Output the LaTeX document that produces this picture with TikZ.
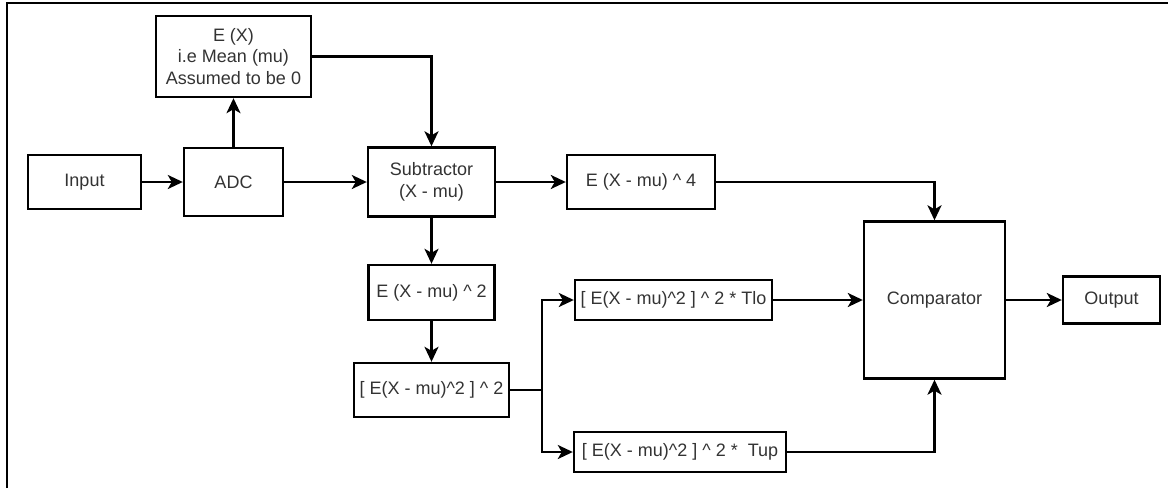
\documentclass[tikz,border=0pt]{standalone}
\usepackage{fontspec}
\setmainfont{Liberation Sans}
\usetikzlibrary{arrows.meta}
\begin{document}
\begin{tikzpicture}[x=1pt,y=-1pt,line width=2.4pt,
  blk/.style={draw,inner sep=0pt,align=center,text=black!80,font=\fontsize{18}{21.5}\selectfont},
  arr/.style={-{Stealth[length=15pt,width=14pt,inset=4pt]}}]
\useasboundingbox (0,0) rectangle (1168,488);
\draw[line width=2pt] (7,488) -- (7,3) -- (1168,3);
\node[blk,minimum width=155,minimum height=81] (ex) at (233.5,56.5) {E (X)\\i.e Mean (mu)\\Assumed to be 0};
\node[blk,minimum width=113,minimum height=54] (in) at (84.5,182) {Input};
\node[blk,minimum width=99,minimum height=68] (adc) at (233.5,182) {ADC};
\node[blk,minimum width=127,minimum height=69] (sub) at (431.5,182) {Subtractor\\(X - mu)};
\node[blk,minimum width=148,minimum height=54] (e4) at (641,182) {E (X - mu) \^{} 4};
\node[blk,minimum width=126,minimum height=55] (e2) at (431.5,292.5) {E (X - mu) \^{} 2};
\node[blk,minimum width=155,minimum height=54] (sq) at (431.5,390) {[ E(X - mu)\^{}2 ] \^{} 2};
\node[blk,minimum width=197,minimum height=40] (tlo) at (673.5,300) {[ E(X - mu)\^{}2 ] \^{} 2 * Tlo};
\node[blk,minimum width=212,minimum height=40] (tup) at (680,452) {[ E(X - mu)\^{}2 ] \^{} 2 *\ \ Tup};
\node[blk,minimum width=141,minimum height=157] (cmp) at (934.5,300) {Comparator};
\node[blk,minimum width=97,minimum height=47] (out) at (1111.5,300) {Output};
\coordinate (br) at (542,390);
\draw[arr] (in) -- (adc);
\draw[arr] (adc) -- (ex);
\draw[arr] (adc) -- (sub);
\draw[arr] (ex.east) -| (sub.north);
\draw[arr] (sub) -- (e4);
\draw[arr] (sub) -- (e2);
\draw[arr] (e2) -- (sq);
\draw (sq.east) -- (br);
\draw[arr] (br) |- (tlo.west);
\draw[arr] (br) |- (tup.west);
\draw[arr] (e4.east) -| (cmp.north);
\draw[arr] (tlo) -- (cmp);
\draw[arr] (tup.east) -| (cmp.south);
\draw[arr] (cmp) -- (out);
\end{tikzpicture}
\end{document}
